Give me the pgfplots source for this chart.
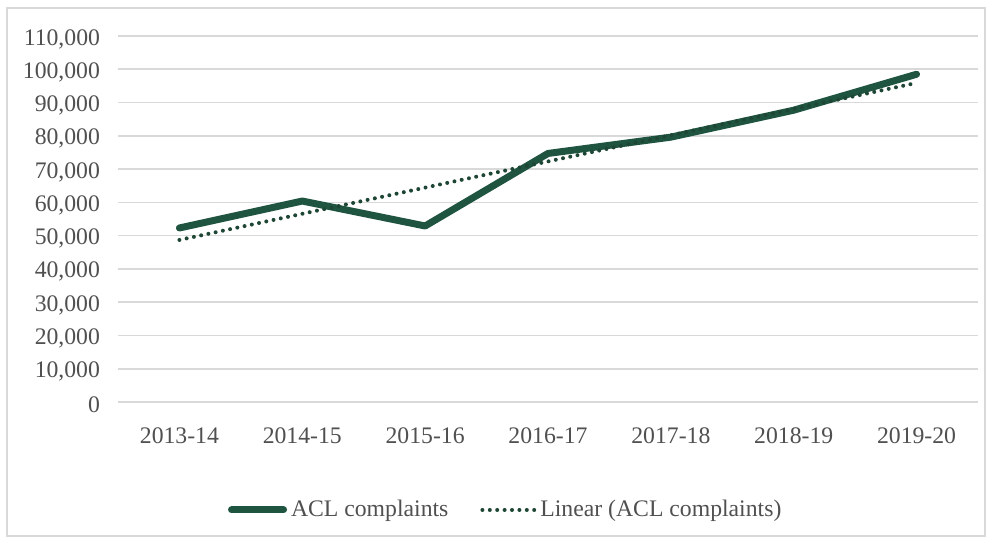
\documentclass[border=0pt]{standalone}
\usepackage{fontspec}
\setmainfont{Liberation Serif}
\usepackage{pgfplots}
\pgfplotsset{compat=1.18}
\definecolor{aclgreen}{HTML}{1F5440}
\definecolor{trendgreen}{HTML}{1E4634}
\definecolor{gridgray}{HTML}{D9D9D9}
\definecolor{txtgray}{HTML}{505050}
\begin{document}
\begin{tikzpicture}
\useasboundingbox (0,0) rectangle (494.5bp,269.5bp);
\fill[white] (0,0) rectangle (494.5bp,269.5bp);
\draw[gridgray, line width=0.8bp] (3.5bp,1.5bp) rectangle (492.5bp,265.5bp);
\begin{axis}[
  at={(59bp,68.5bp)}, anchor=south west,
  scale only axis, width=430bp, height=183bp,
  xmin=-0.5, xmax=6.5, ymin=0, ymax=110000,
  xtick={0,1,2,3,4,5,6},
  xticklabels={2013-14,2014-15,2015-16,2016-17,2017-18,2018-19,2019-20},
  ytick={0,10000,20000,30000,40000,50000,60000,70000,80000,90000,100000,110000},
  yticklabels={0,{10,000},{20,000},{30,000},{40,000},{50,000},{60,000},{70,000},{80,000},{90,000},{100,000},{110,000}},
  ymajorgrids, grid style={gridgray, line width=0.8bp},
  axis line style={draw=none},
  major tick length=0pt,
  tick label style={font=\fontsize{11.9}{14}\selectfont, text=txtgray},
  scaled y ticks=false,
  yticklabel style={xshift=-5.5bp, yshift=-1.5bp},
  xticklabel style={yshift=-9.5bp},
  legend columns=2,
  legend style={draw=none, fill=none, at={(axis description cs:0.452,-0.295)}, anchor=center,
    font=\fontsize{11.9}{14}\selectfont, text=txtgray,
    /tikz/every even column/.append style={column sep=14bp}},
  legend image code/.code={\draw[#1] (0bp,0bp) -- (26bp,0bp);},
]
\addplot[aclgreen, line width=3.5bp, line join=round, line cap=round] coordinates {
  (0,52300) (1,60400) (2,52900) (3,74700) (4,79600) (5,87700) (6,98500)
};
\addlegendentry{ACL complaints}
\addplot[trendgreen, line width=2bp, line cap=round, dash pattern=on 0pt off 3.7bp] coordinates {
  (0,48700) (6,95900)
};
\addlegendentry{Linear (ACL complaints)}
\end{axis}
\end{tikzpicture}
\end{document}
